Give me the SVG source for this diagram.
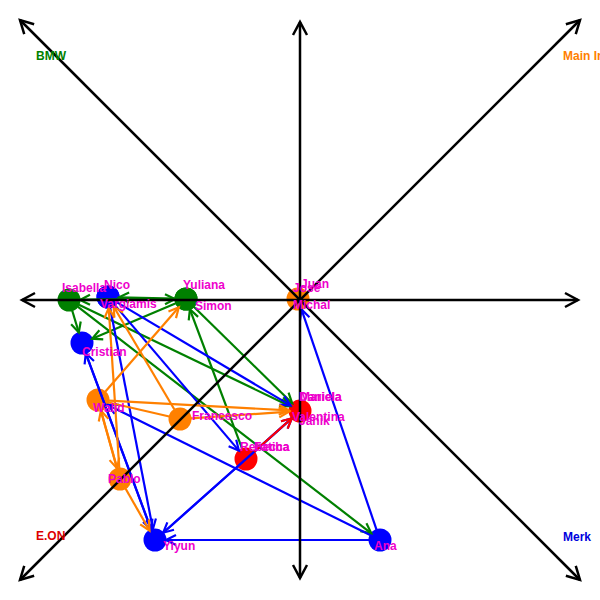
<svg xmlns="http://www.w3.org/2000/svg" width="600" height="600" viewBox="0 0 600 600">
<style>
.ax{stroke:#000;stroke-width:2.5;fill:none}
.e{stroke-width:2.2;fill:none}
.g{stroke:#008000}.b{stroke:#0000ff}.o{stroke:#ff8000}.r{stroke:#ff0000}
.lbl{font-family:"Liberation Sans",Arial,sans-serif;font-size:12px;font-weight:bold;fill:#ee00cc}
.cl{font-family:"Liberation Sans",Arial,sans-serif;font-size:12px;font-weight:bold}
</style>
<defs>
<marker id="ak" markerUnits="userSpaceOnUse" markerWidth="30" markerHeight="30" orient="auto-start-reverse" overflow="visible"><path d="M-13,-7 L0,0 L-13,7" fill="none" stroke="#000" stroke-width="2.5"/></marker>
<marker id="ag" markerUnits="userSpaceOnUse" markerWidth="30" markerHeight="30" orient="auto" overflow="visible"><path d="M-10,-5 L0,0 L-10,5" fill="none" stroke="#008000" stroke-width="2.2"/></marker>
<marker id="ab" markerUnits="userSpaceOnUse" markerWidth="30" markerHeight="30" orient="auto" overflow="visible"><path d="M-10,-5 L0,0 L-10,5" fill="none" stroke="#0000ff" stroke-width="2.2"/></marker>
<marker id="ao" markerUnits="userSpaceOnUse" markerWidth="30" markerHeight="30" orient="auto" overflow="visible"><path d="M-10,-5 L0,0 L-10,5" fill="none" stroke="#ff8000" stroke-width="2.2"/></marker>
<marker id="ar" markerUnits="userSpaceOnUse" markerWidth="30" markerHeight="30" orient="auto" overflow="visible"><path d="M-10,-5 L0,0 L-10,5" fill="none" stroke="#ff0000" stroke-width="2.2"/></marker>
</defs>
<rect width="600" height="600" fill="#fff"/>

<g id="nodes">
<g id="n-isabella"><circle cx="69" cy="300" r="11.5" fill="#008000"/></g>
<g id="n-yuliana"><circle cx="186" cy="299" r="11.5" fill="#008000"/></g>
<g id="n-simon"><circle cx="186" cy="299" r="11.5" fill="#008000"/></g>
<g id="n-nico"><circle cx="108" cy="297" r="11.5" fill="#0000ff"/></g>
<g id="n-vargiamis"><circle cx="108" cy="297" r="11.5" fill="#0000ff"/></g>
<g id="n-cristian"><circle cx="82" cy="343" r="11.5" fill="#0000ff"/></g>
<g id="n-yiyun"><circle cx="155" cy="540" r="11.5" fill="#0000ff"/></g>
<g id="n-ana"><circle cx="380" cy="540" r="11.5" fill="#0000ff"/></g>
<g id="n-walid"><circle cx="98" cy="400" r="11.5" fill="#ff8000"/></g>
<g id="n-francesco"><circle cx="180" cy="419" r="11.5" fill="#ff8000"/></g>
<g id="n-pablo"><circle cx="120" cy="479" r="11.5" fill="#ff8000"/></g>
<g id="n-juan"><circle cx="298" cy="299" r="11.5" fill="#ff8000"/></g>
<g id="n-rebecca"><circle cx="246" cy="459" r="11.5" fill="#ff0000"/></g>
<g id="n-daniela"><circle cx="300" cy="411" r="11.5" fill="#ff0000"/></g>
</g>

<g id="connectors">
<line class="e g" x1="72.2" y1="310.5" x2="78.8" y2="332.5" marker-end="url(#ag)"/>
<line class="e g" x1="175" y1="299.1" x2="80" y2="299.9" marker-end="url(#ag)"/>
<line class="e g" x1="80" y1="299.9" x2="175" y2="299.1" marker-end="url(#ag)"/>
<line class="e g" x1="175" y1="298.7" x2="119" y2="297.3" marker-end="url(#ag)"/>
<line class="e g" x1="175.9" y1="303.3" x2="92.1" y2="338.7" marker-end="url(#ag)"/>
<line class="e g" x1="78.9" y1="304.8" x2="290.1" y2="406.2" marker-end="url(#ag)"/>
<line class="e g" x1="193.8" y1="306.7" x2="292.2" y2="403.3" marker-end="url(#ag)"/>
<line class="e g" x1="77.7" y1="306.7" x2="371.3" y2="533.3" marker-end="url(#ag)"/>
<line class="e g" x1="242.1" y1="448.7" x2="189.9" y2="309.3" marker-end="url(#ag)"/>

<line class="e b" x1="110.1" y1="307.8" x2="152.9" y2="529.2" marker-end="url(#ab)"/>
<line class="e b" x1="117.5" y1="302.6" x2="290.5" y2="405.4" marker-end="url(#ab)"/>
<line class="e b" x1="115.1" y1="305.4" x2="238.9" y2="450.6" marker-end="url(#ab)"/>
<line class="e b" x1="151.2" y1="529.7" x2="85.8" y2="353.3" marker-end="url(#ab)"/>
<line class="e b" x1="85.8" y1="353.3" x2="151.2" y2="529.7" marker-end="url(#ab)"/>
<line class="e b" x1="370.1" y1="535.1" x2="107.9" y2="404.9" marker-end="url(#ab)"/>
<line class="e b" x1="369" y1="540" x2="166" y2="540" marker-end="url(#ab)"/>
<line class="e b" x1="376.5" y1="529.6" x2="301.5" y2="309.4" marker-end="url(#ab)"/>
<line class="e b" x1="163.2" y1="532.7" x2="291.8" y2="418.3" marker-end="url(#ab)"/>
<line class="e b" x1="291.8" y1="418.3" x2="163.2" y2="532.7" marker-end="url(#ab)"/>

<line class="e o" x1="105.2" y1="391.7" x2="178.8" y2="307.3" marker-end="url(#ao)"/>
<line class="e o" x1="109" y1="400.6" x2="289" y2="410.4" marker-end="url(#ao)"/>
<line class="e o" x1="191" y1="418.3" x2="289" y2="411.7" marker-end="url(#ao)"/>
<line class="e o" x1="100.9" y1="410.6" x2="117.1" y2="468.4" marker-end="url(#ao)"/>
<line class="e o" x1="117.1" y1="468.4" x2="100.9" y2="410.6" marker-end="url(#ao)"/>
<line class="e o" x1="125.5" y1="488.5" x2="149.5" y2="530.5" marker-end="url(#ao)"/>
<line class="e o" x1="174.4" y1="409.5" x2="113.6" y2="306.5" marker-end="url(#ao)"/>
<line class="e o" x1="119.3" y1="468" x2="108.7" y2="308" marker-end="url(#ao)"/>
<line class="e o" x1="108.7" y1="402.5" x2="169.3" y2="416.5"/>

<line class="e r" x1="254.2" y1="451.7" x2="291.8" y2="418.3" marker-end="url(#ar)"/>
</g>

<g id="axes">
<line class="ax" x1="22" y1="300" x2="578" y2="300" marker-start="url(#ak)" marker-end="url(#ak)"/>
<line class="ax" x1="300" y1="22" x2="300" y2="578" marker-start="url(#ak)" marker-end="url(#ak)"/>
<line class="ax" x1="20" y1="20" x2="580" y2="580" marker-start="url(#ak)" marker-end="url(#ak)"/>
<line class="ax" x1="580" y1="20" x2="20" y2="580" marker-start="url(#ak)" marker-end="url(#ak)"/>
</g>

<g id="labels">
<text class="cl" x="36" y="60" fill="#008000">BMW</text>
<text class="cl" x="563" y="60" fill="#ff8000">Main Index</text>
<text class="cl" x="36" y="540" fill="#dd0000">E.ON</text>
<text class="cl" x="563" y="541" fill="#0000dd">Merk</text>
<text class="lbl" x="62" y="292">Isabella</text>
<text class="lbl" x="104" y="289">Nico</text>
<text class="lbl" x="100" y="308">Vargiamis</text>
<text class="lbl" x="183" y="289">Yuliana</text>
<text class="lbl" x="195" y="310">Simon</text>
<text class="lbl" x="82" y="356">Cristian</text>
<text class="lbl" x="93" y="412">Walid</text>
<text class="lbl" x="192" y="420">Francesco</text>
<text class="lbl" x="108" y="483">Pablo</text>
<text class="lbl" x="163" y="550">Yiyun</text>
<text class="lbl" x="374" y="550">Ana</text>
<text class="lbl" x="240" y="451">Rebecca</text>
<text class="lbl" x="254" y="451">Fatiha</text>
<text class="lbl" x="299" y="401">Daniela</text>
<text class="lbl" x="300" y="401">Mariela</text>
<text class="lbl" x="299" y="425">Janik</text>
<text class="lbl" x="292" y="421">Valentina</text>
<text class="lbl" x="301" y="288">Juan</text>
<text class="lbl" x="293" y="292">Jose</text>
<text class="lbl" x="293" y="309">Michal</text>
</g>
</svg>
